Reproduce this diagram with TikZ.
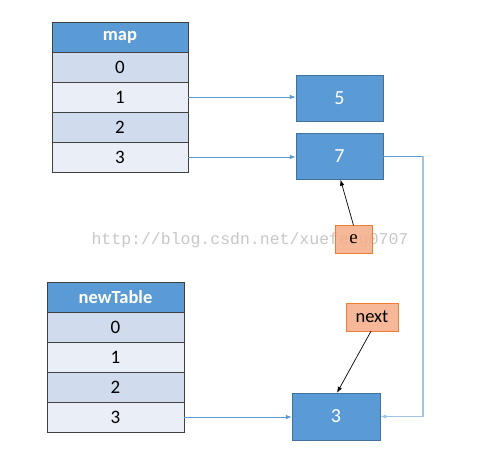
\documentclass[tikz,border=0pt]{standalone}
\usepackage{fontspec}
\setmainfont{Carlito}
\newfontfamily\markfont{Liberation Mono}
\newfontfamily\efont{Liberation Serif}
\usetikzlibrary{arrows.meta}
\definecolor{hdrblue}{HTML}{5B9BD5}
\definecolor{rowdark}{HTML}{D0DCEE}
\definecolor{rowlight}{HTML}{E9EEF7}
\definecolor{nodeline}{HTML}{41719C}
\definecolor{tagfill}{HTML}{F6AC87}
\definecolor{tagline}{HTML}{ED7D31}
\definecolor{linkblue}{HTML}{5B9BD5}
\definecolor{linkpale}{HTML}{9DC3E6}

\begin{document}
\begin{tikzpicture}[x=1pt, y=-1pt, >={Latex[length=6pt,width=4.5pt]},
  cell/.style={draw=black!75, line width=0.8pt, minimum width=136pt, minimum height=30pt,
               inner sep=0pt, font=\fontsize{19}{21}\selectfont},
  hdrcell/.style={cell, fill=hdrblue, text=white, font=\bfseries\fontsize{18.5}{20}\selectfont},
  entry/.style={draw=nodeline, fill=hdrblue, text=white, minimum width=87pt,
                minimum height=46pt, inner sep=0pt, font=\fontsize{20}{22}\selectfont},
  tag/.style={draw=tagline, fill=tagfill, fill opacity=0.85, text opacity=1, inner sep=0pt,
              minimum height=28pt, font=\fontsize{18.5}{20}\selectfont},
  link/.style={draw=linkblue, line width=0.8pt, -{Latex[length=6pt,width=4.5pt]}}]
  \useasboundingbox (0,0) rectangle (485,457);
  % watermark
  \node[text=black!22, font=\markfont\fontsize{16.5}{18}\selectfont, inner sep=0pt]
    (mark) at (250,240) {http://blog.csdn.net/xuefeng0707};
  % old table
  \node[hdrcell] (maph) at (120,37) {map};
  \foreach \i/\c in {0/rowdark,1/rowlight,2/rowdark,3/rowlight}
    \node[cell, fill=\c] (map\i) at (120,67+30*\i) {\i};
  % new table
  \node[hdrcell, minimum width=137pt] (newh) at (115.5,297) {newTable};
  \foreach \i/\c in {0/rowdark,1/rowlight,2/rowdark,3/rowlight}
    \node[cell, fill=\c, minimum width=137pt] (new\i) at (115.5,327+30*\i) {\i};
  % entries
  \node[entry] (five) at (339.5,98) {5};
  \node[entry] (seven) at (339.5,156.5) {7};
  \node[entry, minimum width=88pt, minimum height=47pt] (three) at (336,416.5) {3};
  \node[tag, minimum width=37pt, font=\efont\fontsize{19}{21}\selectfont] (e) at (353.5,239.5) {e};
  \node[tag, minimum width=52pt] (next) at (372,317) {next};
  % links
  \draw[link] (map1.east) -- (map1.east -| five.west);
  \draw[link] (map3.east) -- (map3.east -| seven.west);
  \draw[link] (new3.east) -- (new3.east -| three.west);
  \draw[linkblue, line width=0.8pt] (seven.east) -- ++(40,0) coordinate (turn);
  \draw[linkpale, line width=1.6pt] (turn) -- (turn |- three.east);
  \draw[link, draw=linkpale, line width=1.6pt] (turn |- three.east) -- (three.east);
  \draw[->, line width=0.7pt] (e.north) -- ([xshift=1pt]seven.south);
  \draw[->, line width=0.7pt] ([xshift=-1pt]next.south) -- ([xshift=1pt]three.north);
\end{tikzpicture}
\end{document}
